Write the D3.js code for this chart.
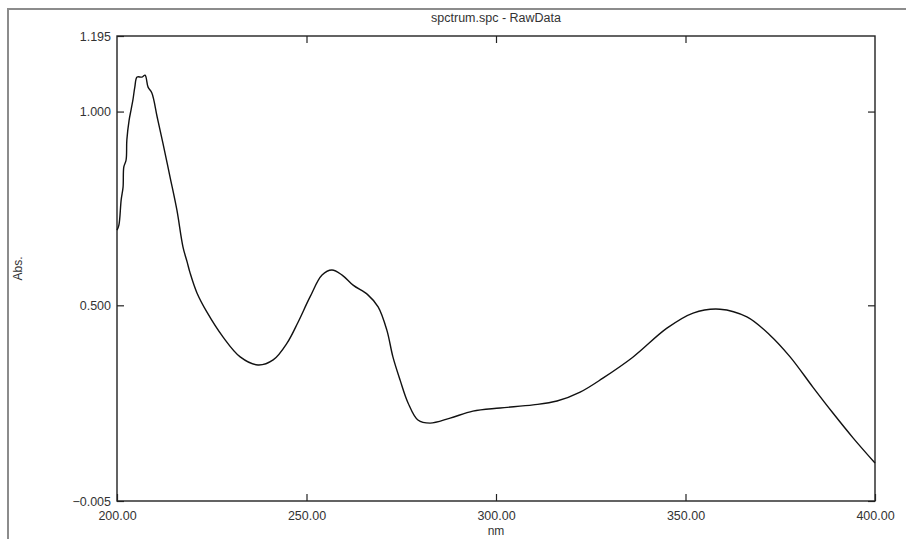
<!DOCTYPE html>
<html>
<head>
<meta charset="utf-8">
<script src="https://cdn.jsdelivr.net/npm/d3@7/dist/d3.min.js"></script>
<style>
  html, body { margin: 0; padding: 0; background: #fff; }
  svg { display: block; }
  text { font-family: "Liberation Sans", Arial, sans-serif; fill: #333; }
</style>
</head>
<body>
<svg id="chart" width="906" height="539"></svg>
<script>
// Absorbance spectrum (raw data), wavelength in nm
const wavelength = [
  200.0, 200.5, 201.1, 201.6, 201.8, 202.4, 202.6, 203.2, 203.7, 204.2,
  204.7, 205.3, 206.6, 207.4, 208.2, 209.2, 210.6, 212.1, 214.0, 215.8,
  217.4, 218.5, 219.3, 221.1, 223.7, 228.0, 232.5, 237.2, 241.2, 244.9,
  247.8, 250.9, 254.1, 256.7, 259.4, 262.3, 266.2, 268.9, 271.2, 272.8,
  274.7, 276.8, 279.4, 282.6, 287.9, 293.9, 301.1, 309.8, 316.1, 322.2,
  328.2, 336.1, 345.1, 352.0, 359.1, 366.2, 372.3, 377.6, 383.6,
  388.9, 394.2, 400.0
];
const absorbance = [
  0.694, 0.707, 0.772, 0.805, 0.857, 0.875, 0.927, 0.978, 1.004, 1.030,
  1.063, 1.089, 1.089, 1.094, 1.063, 1.048, 0.986, 0.919, 0.831, 0.746,
  0.651, 0.612, 0.583, 0.532, 0.483, 0.418, 0.367, 0.346, 0.359, 0.403,
  0.457, 0.521, 0.578, 0.591, 0.578, 0.552, 0.527, 0.496, 0.436, 0.367,
  0.307, 0.248, 0.204, 0.196, 0.209, 0.227, 0.235, 0.243, 0.253, 0.276,
  0.312, 0.366, 0.441, 0.480, 0.490, 0.470, 0.423, 0.367, 0.289,
  0.222, 0.158, 0.093
];

const xTicks = [200, 250, 300, 350, 400];
const yTicks = [-0.005, 0.5, 1.0, 1.195];
const xDomain = [200, 400];
const yDomain = [-0.005, 1.195];

const titleText = "spctrum.spc - RawData";
const xLabel = "nm";
const yLabel = "Abs.";

const svg = d3.select("#chart");
const W = 906, H = 539;
const plot = { left: 117, right: 875, top: 36, bottom: 501 };

// outer window frame
svg.append("path")
  .attr("d", `M8,${H} L8,9 L${W},9`)
  .attr("fill", "none")
  .attr("stroke", "#8c8c8c")
  .attr("stroke-width", 2);

const x = d3.scaleLinear().domain(xDomain).range([plot.left, plot.right]);
const y = d3.scaleLinear().domain(yDomain).range([plot.bottom, plot.top]);

const tickLen = 7;
const axisColor = "#222";

function styleAxis(g) {
  g.select(".domain").remove();
  g.selectAll(".tick line").attr("stroke", axisColor).attr("stroke-width", 1.2);
  g.selectAll(".tick text")
    .attr("fill", "#333")
    .style("font-size", "12.5px")
    .style("font-family", "'Liberation Sans', Arial, sans-serif");
}

// bottom axis with inward ticks
svg.append("g")
  .attr("transform", `translate(0,${plot.bottom})`)
  .call(d3.axisBottom(x).tickValues(xTicks).tickFormat(d3.format(".2f"))
    .tickSize(-tickLen).tickPadding(10))
  .call(styleAxis);

// top axis: ticks only
svg.append("g")
  .attr("transform", `translate(0,${plot.top})`)
  .call(d3.axisTop(x).tickValues(xTicks.slice(1, -1)).tickFormat("").tickSize(-tickLen))
  .call(styleAxis);

// left axis with inward ticks
svg.append("g")
  .attr("transform", `translate(${plot.left},0)`)
  .call(d3.axisLeft(y).tickValues(yTicks).tickFormat(d3.format(".3f"))
    .tickSize(-tickLen).tickPadding(6))
  .call(styleAxis);

// right axis: ticks only
svg.append("g")
  .attr("transform", `translate(${plot.right},0)`)
  .call(d3.axisRight(y).tickValues(yTicks.slice(0, -1)).tickFormat("").tickSize(-tickLen))
  .call(styleAxis);

// plot frame
svg.append("rect")
  .attr("x", plot.left).attr("y", plot.top)
  .attr("width", plot.right - plot.left).attr("height", plot.bottom - plot.top)
  .attr("fill", "none")
  .attr("stroke", axisColor)
  .attr("stroke-width", 1.4);

// spectrum trace
const pts = wavelength.map((w, i) => [w, absorbance[i]]);
const line = d3.line()
  .x(d => x(d[0]))
  .y(d => y(d[1]))
  .curve(d3.curveCatmullRom.alpha(0.5));

svg.append("path")
  .datum(pts)
  .attr("d", line)
  .attr("fill", "none")
  .attr("stroke", "#111")
  .attr("stroke-width", 1.4)
  .attr("stroke-linejoin", "round");

// title and axis labels
svg.append("text")
  .attr("x", (plot.left + plot.right) / 2)
  .attr("y", 22)
  .attr("text-anchor", "middle")
  .style("font-size", "12.5px")
  .text(titleText);

svg.append("text")
  .attr("x", (plot.left + plot.right) / 2)
  .attr("y", 535)
  .attr("text-anchor", "middle")
  .style("font-size", "12px")
  .text(xLabel);

svg.append("text")
  .attr("transform", `translate(22,${(plot.top + plot.bottom) / 2}) rotate(-90)`)
  .attr("text-anchor", "middle")
  .style("font-size", "12px")
  .text(yLabel);
</script>
</body>
</html>
